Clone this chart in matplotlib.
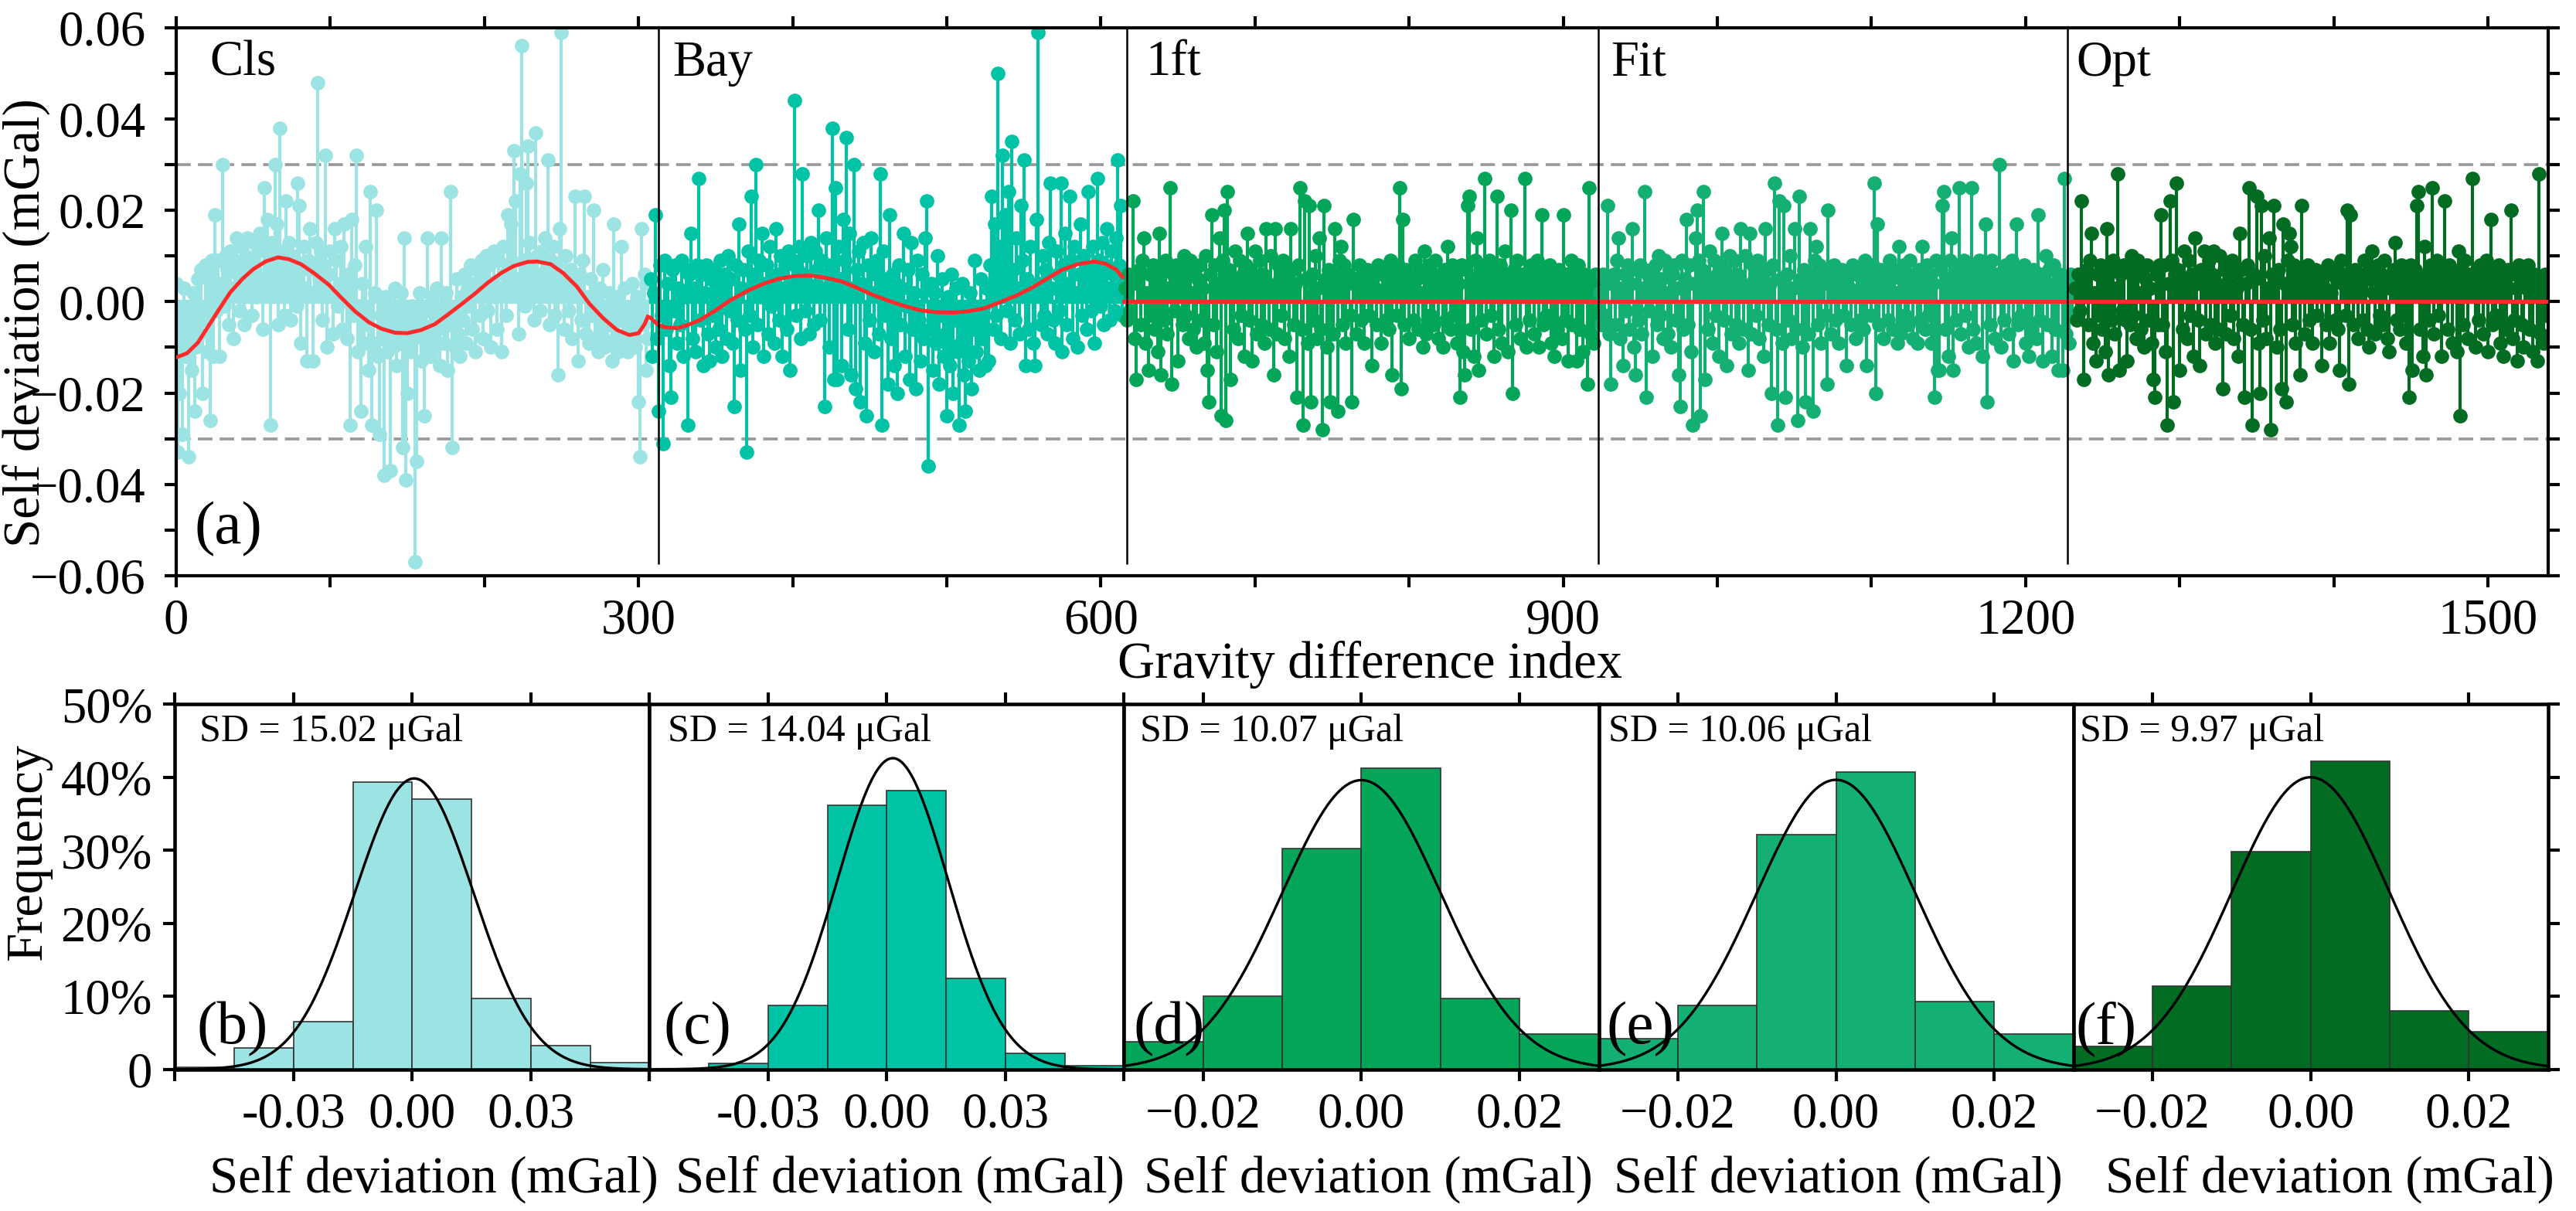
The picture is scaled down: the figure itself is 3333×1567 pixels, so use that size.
import numpy as np
import matplotlib.pyplot as plt
from matplotlib.ticker import MultipleLocator, FuncFormatter

plt.rcParams['font.family'] = ['Liberation Serif', 'DejaVu Serif']
plt.rcParams['font.size'] = 15.5

methods = ['Cls', 'Bay', '1ft', 'Fit', 'Opt']
colors = ['#9ce3e3', '#00c2a5', '#03a559', '#14af73', '#036c23']

# self deviations, microGal, one value per gravity difference
cls_dev = [
    4, -33, -20, -6, -29, 3, -12, -8, -34, -3, -15, 2, -24, -10, 5, -7, 7, -20, -4, 8,
    -11, 6, -26, 9, -12, 19, -2, 9, -12, 4, 30, -1, 10, 7, -5, 11, 3, -8, 9, 14,
    6, -2, 12, 8, -5, 10, 14, 3, 9, -3, 13, 7, 1, 11, 15, 5, -6, 25, 12, 18,
    9, -27, 13, 4, 30, 17, -5, 38, 11, 6, -3, 22, 8, 13, -4, 10, 5, 9, -1, 26,
    21, -9, 7, 12, 3, -13, 9, 16, 2, -13, 7, 13, 48, 5, 11, -4, 8, 32, -10, 6,
    11, 2, -7, 16, 9, -1, 4, 12, -6, 17, 3, -8, 6, -27, 18, -3, 8, 32, -11, -1,
    -24, 4, -9, 12, -5, -15, 24, -27, -9, 2, 20, -12, -29, -3, -8, -38, 1, -11, -5, -37,
    -2, -10, 3, -14, -6, -9, 2, -32, 14, -39, -20, -4, -11, -1, -8, -57, -35, -6, 2, -13,
    -5, -25, -9, 14, -2, -12, 1, -7, -10, 3, -6, -14, 14, -3, -9, 2, -15, -5, 24, -32,
    -2, -10, 5, -7, -12, 1, -4, 6, -9, 3, -1, 8, -6, 4, -11, 7, 2, -3, 9, -8,
    5, 10, -2, 8, -10, 4, 11, 1, -6, 9, 3, -11, 12, 6, -3, 19, 8, 17, 2, 33,
    22, 5, -7, 28, 56, 9, -1, 26, 34, 13, 2, 9, -4, 37, 10, 6, -2, 11, 4, 14,
    7, 31, -5, 9, 2, 12, -3, 8, -16, 16, 59, 5, -6, 10, 3, -2, 7, -8, 4, 23,
    2, -13, 6, -4, 9, 23, -7, 1, -9, 5, -3, 20, -8, 0, -11, 3, -6, 7, -10, -2,
    -9, 2, -5, -13, 17, -8, 1, -11, -4, 12, -9, 3, -7, -11, -2, -9, 4, -6, -10, 1,
    -22, -34, 16, -5, 6, -15, -8, 4]

bay_dev = [
    5, -12, 2, 19, -8, -24, 8, -3, -31, 9, -6, 4, -14, -21, 7, -2, 8, -9, 3, -5,
    9, -12, 1, 7, -27, 6, 15, -8, 3, -11, 8, 27, -4, 6, -14, 2, 8, -7, -13, 5,
    -3, 7, -10, 4, -6, 9, -12, 2, 6, -8, 10, -2, 5, -9, -23, 8, -4, 17, -15, 3,
    7, -6, -33, 11, -3, 23, -10, 6, 30, -5, 9, 1, 15, -12, 4, 8, -7, 12, -1, 5,
    -9, 16, 6, -4, 10, -12, 3, 8, -6, 11, -15, 4, 9, 44, -3, 7, 12, -8, 28, 6,
    -2, 10, 4, -7, 13, 2, -5, 11, 7, 20, -4, 9, 3, -23, 14, 6, -10, 8, 38, -17,
    25, -17, 12, 5, -14, 18, 9, 36, -6, 15, -16, 3, 30, -19, 7, 11, -22, 4, 13, -9,
    -25, 8, -4, 14, 2, -11, 6, 9, -7, 28, -27, 11, -3, 5, -18, 19, -8, 6, -14, 4,
    -20, 8, -5, 3, 15, -12, -1, 7, -17, 13, -6, 2, -19, 9, -4, -13, 6, -8, 14, 22,
    -36, -6, 4, -15, 2, -9, 10, -18, -3, 5, -12, -7, -25, 1, -14, 6, -20, -4, 3, -11,
    -27, -9, 4, -16, -24, -2, -13, 2, -19, -6, 9, -11, -3, -15, 5, -8, -1, -14, 3, -13,
    8, 23, -6, 17, -3, 50, 12, -8, 32, 6, 19, -2, 24, -9, 35, 7, -4, 14, 3, -7,
    21, 9, 31, -14, 5, -6, 12, 2, -9, -14, 18, 59, 4, -5, 10, -3, 7, -7, 13, 26,
    3, -4, -9, 11, 6, -2, 26, -11, 8, 15, -5, 4, 23, 9, -8, 12, 2, -10, 6, 17,
    -3, 10, 4, -6, 24, 7, -2, 12, -9, 5, 27, 9, -1, 13, -5, 8, 16, 3, -4, 11,
    6, -2, 14, 31, 8, 21, -3, 6]

ft_dev = [
    3, -4, 6, -2, 5, 22, -8, -17, 4, 7, -5, 9, 14, -9, 2, -15, 6, -3, 8, -6,
    5, -11, 15, -16, 7, -4, 9, -7, 3, 25, -18, 6, -2, 8, -13, 4, 7, -5, 10, -3,
    6, -8, 9, 2, -6, 7, -10, 5, 8, -4, 3, -9, 10, -15, -22, 6, 19, -5, 8, -11,
    4, 14, -25, 9, 20, -26, 24, 7, -17, 5, -6, 11, 3, -8, 9, -3, 6, -12, 8, 15,
    -4, 7, -13, 5, 11, -7, 3, 9, -5, 6, -9, 16, 4, -6, 10, 2, -16, 16, -7, 8,
    5, -3, 9, -8, 6, 3, -12, 16, 7, -5, 4, -21, 8, 25, -6, -27, 22, 5, -9, 21,
    -22, 6, -4, 10, -8, 3, 14, -6, -28, 21, 5, -10, 7, -22, 4, -7, 16, 6, -24, 9,
    12, -5, 8, -9, 4, 6, -3, -22, 18, 5, -7, 3, 8, -4, 6, -9, 5, 7, -3, 4,
    -14, 6, 3, -5, 8, 2, -9, 6, 7, -4, 5, -6, 9, -16, 4, 6, -3, 8, 25, -19,
    18, -5, 7, 4, -8, 6, 3, -4, 9, 5, -6, 7, 2, -10, 11, -7, 5, 8, -3, 6,
    -5, 9, 4, -8, 6, 3, -10, 7, -4, 12, 5, -6, 8, -3, 6, -9, 4, -21, 8, -11,
    -16, 7, 21, 23, -6, 5, -12, 9, 14, -15, 6, -4, 8, 27, -7, 5, 9, -3, 7, -12,
    5, 23, -6, 8, -9, 4, 11, 6, -11, 5, 20, -20, 7, -5, 9, 3, -8, 6, 4, 27,
    -10, 6, -4, 8, 5, -7, 3, 9, -10, 6, 19, -5, 7, -3, 4, 8, -9, 6, -12, 5,
    -6, 7, 3, -8, 19, -4, 6, -13, 5, 9, -5, 7, 3, -13, 8, -6, 4, -11, 6, 5,
    -18, 25, -7, 4, -9, 6, -3, 5]

fit_dev = [
    2, -5, 6, -3, 5, 21, -7, -18, 4, 6, -5, 9, 14, -8, 3, -14, 6, -2, 8, -6,
    4, 16, -10, -16, 7, -4, 8, -7, 3, 24, -21, 6, -2, 7, -12, 4, 8, -5, 10, -3,
    5, -8, 9, 2, -7, 7, -10, 6, 8, -4, 3, -16, -23, 9, -6, 5, 18, -5, 8, -11,
    -27, 4, 14, 20, 9, -25, 7, 24, -17, 5, -6, 11, 3, -9, 9, -3, 6, -12, 8, 15,
    -4, 7, -14, 5, 10, -7, 3, 9, -5, 6, -9, 16, 4, -6, 10, 2, -15, 15, -7, 8,
    5, -3, 9, -8, 6, 3, -12, 16, 7, -5, 4, -20, 8, 26, -6, -27, 22, 5, -9, 21,
    -21, 6, -4, 10, -8, 3, 16, -6, -26, 23, 5, -10, 7, -22, 4, -7, 16, 6, -24, 9,
    12, -5, 8, -9, 4, 6, -3, -18, 20, 5, -7, 3, 8, -4, 6, -9, 5, 7, -3, 4,
    -14, 6, 3, -5, 8, 2, -8, 6, 7, -4, 5, -6, 9, -14, 4, 6, -3, 8, 26, -20,
    17, -5, 7, 4, -8, 6, 3, -4, 9, 5, -6, 7, 2, -9, 12, -7, 5, 8, -3, 6,
    -5, 9, 4, -8, 6, 3, -9, 7, -4, 12, 5, -6, 8, -3, 6, -9, 4, -21, 9, -15,
    -15, 7, 21, 24, -6, 5, -12, 9, 14, -15, 6, -4, 8, 25, -7, 5, 9, -3, 7, -10,
    5, 25, -6, 8, -9, 4, 9, 6, -12, 5, 17, -22, 7, -5, 9, 3, -8, 6, 4, 30,
    -10, 6, -4, 8, 5, -7, 3, 9, -13, 6, 17, -5, 7, -3, 4, 8, -9, 6, -12, 5,
    -6, 7, 3, -8, 19, -4, 6, -13, 5, 10, -5, 7, 3, -12, 8, -6, 4, -15, 6, 5,
    -15, 27, -7, 4, -9, 6, -3, 5]

opt_dev = [
    3, -4, 6, -2, 22, 5, -17, 4, 7, -5, 9, 15, -9, 2, -13, 6, -3, 8, -6, 5,
    -11, 16, -16, 7, -4, 9, -7, 3, 28, -15, 6, -2, 8, -4, -13, 7, -5, 10, -3, 6,
    -8, 9, 2, -6, 7, -10, 5, 8, -4, 3, -9, -17, -21, 6, -5, 8, 19, -5, 8, -11,
    -27, 4, 22, 9, -22, 6, 26, 7, -15, 5, -6, 11, 3, -8, 9, -3, 6, -12, 14, 4,
    -4, -14, 7, 5, 11, -7, 3, 9, -5, 6, 11, -9, 4, -6, 10, 2, -19, 7, -7, 8,
    5, -3, 9, -8, 6, 3, -12, 15, 7, -5, -21, 4, 8, 25, -6, -27, 6, 5, 23, -9,
    -20, 21, -4, 10, -8, 3, 14, -28, 6, 21, 5, -10, 7, -6, -19, 17, 4, -22, 9, 15,
    12, -5, 8, -9, 4, 6, -16, 21, 5, -7, 3, 8, -4, 6, -9, 5, 7, -3, 4, 6,
    -14, 6, 3, -5, 8, -9, 2, 6, 7, -4, 5, -6, -15, 9, 4, 6, -3, 20, -18, 19,
    6, -5, 7, 4, -8, 6, 3, -4, 9, 5, -6, -10, 7, 11, 2, -7, 5, 8, -3, 6,
    -5, 9, 4, -8, -11, 3, 6, 7, 13, -4, 5, -6, 8, -3, 6, -9, 4, -21, 8, -15,
    6, 7, 21, 24, -6, 5, -12, 12, -16, 6, -4, 8, 25, -7, 5, 9, -3, 7, -12, 4,
    22, 5, -6, 8, 7, -9, 4, 6, -11, 11, -25, 7, -5, 9, 3, -8, 6, 4, 27, 5,
    -10, 6, -4, 8, 5, -7, 3, 9, -11, 6, 18, -5, 7, -3, 4, 8, -9, 6, -12, 5,
    -6, 7, 3, 20, -8, -4, 6, -13, 8, 5, -5, -10, 7, 3, 8, -6, 4, -11, 6, 5,
    -13, 28, -7, 4, -9, 6, -3, 5]

segments = [cls_dev, bay_dev, ft_dev, fit_dev, opt_dev]

# red trend curves (index, microGal)
cls_trend_x = [0, 7, 14, 21, 28, 35, 43, 50, 58, 66, 73, 81, 90, 99, 107, 116, 125, 133, 142, 150,
               159, 168, 176, 185, 194, 202, 211, 219, 228, 234, 243, 251, 260, 268, 277, 286, 294, 300, 304, 306]
cls_trend_y = [-12.2, -11.3, -9.0, -5.3, -1.6, 2.0, 5.0, 7.1, 8.8, 9.7, 9.3, 8.2, 6.1, 3.7, 0.9, -2.1, -4.5, -5.9, -6.8, -6.9,
               -6.2, -4.9, -2.9, -0.6, 1.8, 4.1, 6.3, 7.8, 8.7, 8.8, 8.2, 6.3, 3.3, -0.4, -3.6, -6.2, -7.3, -6.9, -4.9, -3.3]
bay_trend_x = [308, 312, 317, 325, 332, 340, 350, 360, 371, 381, 391, 401, 412, 422, 432, 442, 452, 463, 473, 483,
               493, 504, 514, 524, 534, 545, 555, 565, 575, 585, 596, 603, 610, 614]
bay_trend_y = [-3.6, -4.9, -5.6, -5.8, -5.1, -4.0, -1.9, 0.4, 2.4, 3.9, 5.0, 5.6, 5.7, 5.2, 4.4, 3.0, 1.5, 0.1, -1.0, -1.9,
               -2.3, -2.4, -2.1, -1.5, -0.2, 1.3, 3.0, 5.0, 7.0, 8.2, 8.8, 8.3, 7.0, 5.4]
flat_trend_y = [0.0, 0.0]

sep_x = [313, 617, 923, 1227]
label_x = [22, 322, 629, 931, 1233]

# histogram panels
sd_values = [15.02, 14.04, 10.07, 10.06, 9.97]
hist_mean = [0.0005, 0.0015, 0.0, 0.0, 0.0]
hist_lim = [0.06, 0.06, 0.03, 0.03, 0.03]
hist_bw = [0.015, 0.015, 0.01, 0.01, 0.01]
freq_b = [0.3, 2.9, 6.5, 39.3, 37.0, 9.7, 3.2, 0.9]
freq_c = [0.0, 0.8, 8.7, 36.2, 38.2, 12.5, 2.2, 0.5]
freq_d = [3.8, 10.0, 30.2, 41.2, 9.7, 4.8]
freq_e = [4.2, 8.7, 32.1, 40.7, 9.3, 4.8]
freq_f = [3.1, 11.4, 29.8, 42.2, 8.0, 5.1]
freqs = [freq_b, freq_c, freq_d, freq_e, freq_f]
panel_tags = ['(b)', '(c)', '(d)', '(e)', '(f)']
tag_x = [0.046, 0.029, 0.019, 0.017, 0.005]
sd_x = [0.052, 0.038, 0.034, 0.021, 0.013]
xlab_x = [0.546, 0.528, 0.515, 0.504, 0.54]

fig = plt.figure(figsize=(3333 / 300, 1567 / 300), dpi=300)

# ---------- (a) self deviation series ----------
ax = fig.add_axes([0.0684, 0.5246, 0.9207, 0.4526])
ax.axhline(0.03, color='#9a9a9a', lw=0.9, ls=(0, (5, 2.5)), zorder=0.5)
ax.axhline(-0.03, color='#9a9a9a', lw=0.9, ls=(0, (5, 2.5)), zorder=0.5)

start = 0
seg_ranges = []
for vals, c in zip(segments, colors):
    x = start + np.arange(len(vals))
    y = np.asarray(vals) / 1000.0
    ml, sl, bl = ax.stem(x, y)
    plt.setp(sl, color=c, linewidth=1.0)
    plt.setp(ml, color=c, markersize=4.5, markeredgewidth=0)
    plt.setp(bl, color=c, linewidth=1.3)
    seg_ranges.append((x[0], x[-1]))
    start += len(vals)

red = '#ff2a2a'
ax.plot(cls_trend_x, np.asarray(cls_trend_y) / 1000, color=red, lw=1.2, zorder=5)
ax.plot(bay_trend_x, np.asarray(bay_trend_y) / 1000, color=red, lw=1.2, zorder=5)
for s0, s1 in seg_ranges[2:]:
    ax.plot([s0 - 1, s1], np.asarray(flat_trend_y) / 1000, color=red, lw=1.2, zorder=5)

ax.vlines(sep_x, -0.0575, 0.06, colors='k', lw=0.6, zorder=6)
for lx, name in zip(label_x, methods):
    ax.text(lx, 0.0495, name, fontsize=15.5, va='baseline', zorder=7)
ax.text(12, -0.053, '(a)', fontsize=19, va='baseline', zorder=7)

ax.set_xlim(0, start - 1)
ax.set_ylim(-0.06, 0.06)
ax.xaxis.set_major_locator(MultipleLocator(300))
ax.xaxis.set_minor_locator(MultipleLocator(100))
ax.yaxis.set_major_locator(MultipleLocator(0.02))
ax.yaxis.set_minor_locator(MultipleLocator(0.01))
ax.tick_params(which='both', direction='out', top=True, right=True, length=3.5, width=1.0, labelsize=15.5)
ax.tick_params(axis='y', pad=6)
for sp in ax.spines.values():
    sp.set_linewidth(1.0)
ax.set_xlabel('Gravity difference index', fontsize=16)
ax.xaxis.set_label_coords(0.5033, -0.118)
ax.set_ylabel('Self deviation (mGal)', fontsize=16)
ax.yaxis.set_label_coords(-0.0531, 0.461)

# ---------- (b)-(f) histograms ----------
hw = 0.18424
pct = FuncFormatter(lambda v, p: '0' if v == 0 else '%d%%' % v)
for i in range(5):
    h = fig.add_axes([0.0679 + i * hw, 0.1170, hw, 0.3014])
    lim, bw = hist_lim[i], hist_bw[i]
    edges = np.arange(-lim, lim + bw / 2, bw)
    h.bar(edges[:-1], freqs[i], width=bw, align='edge', color=colors[i],
          edgecolor='#333333', linewidth=0.4)
    xs = np.linspace(-lim, lim, 400)
    sd = sd_values[i] / 1000.0
    gauss = 100 * bw * np.exp(-0.5 * ((xs - hist_mean[i]) / sd) ** 2) / (sd * np.sqrt(2 * np.pi))
    h.plot(xs, gauss, color='k', lw=0.8)
    h.set_xlim(-lim, lim)
    h.set_ylim(0, 50)
    if lim > 0.05:
        h.set_xticks([-0.06, -0.03, 0.0, 0.03, 0.06], ['', '-0.03', '0.00', '0.03', ''])
    else:
        h.set_xticks([-0.02, 0.0, 0.02])
    h.yaxis.set_major_locator(MultipleLocator(10))
    h.yaxis.set_major_formatter(pct)
    h.tick_params(which='both', direction='out', top=True, length=3.5, width=1.0, labelsize=15.5)
    if i == 0:
        h.set_ylabel('Frequency', fontsize=16)
        h.yaxis.set_label_coords(-0.2596, 0.595)
    else:
        h.tick_params(axis='y', left=False, labelleft=False)
    if i == 4:
        h.tick_params(axis='y', right=True, labelright=False)
    for sp in h.spines.values():
        sp.set_linewidth(1.1)
    h.text(sd_x[i], 0.90, 'SD = %.2f μGal' % sd_values[i], transform=h.transAxes,
           fontsize=12, va='baseline')
    h.text(tag_x[i], 0.07, panel_tags[i], transform=h.transAxes, fontsize=19, va='baseline')
    h.set_xlabel('Self deviation (mGal)', fontsize=16)
    h.xaxis.set_label_coords(xlab_x[i], -0.235)

fig.savefig('out.png', dpi=300)
